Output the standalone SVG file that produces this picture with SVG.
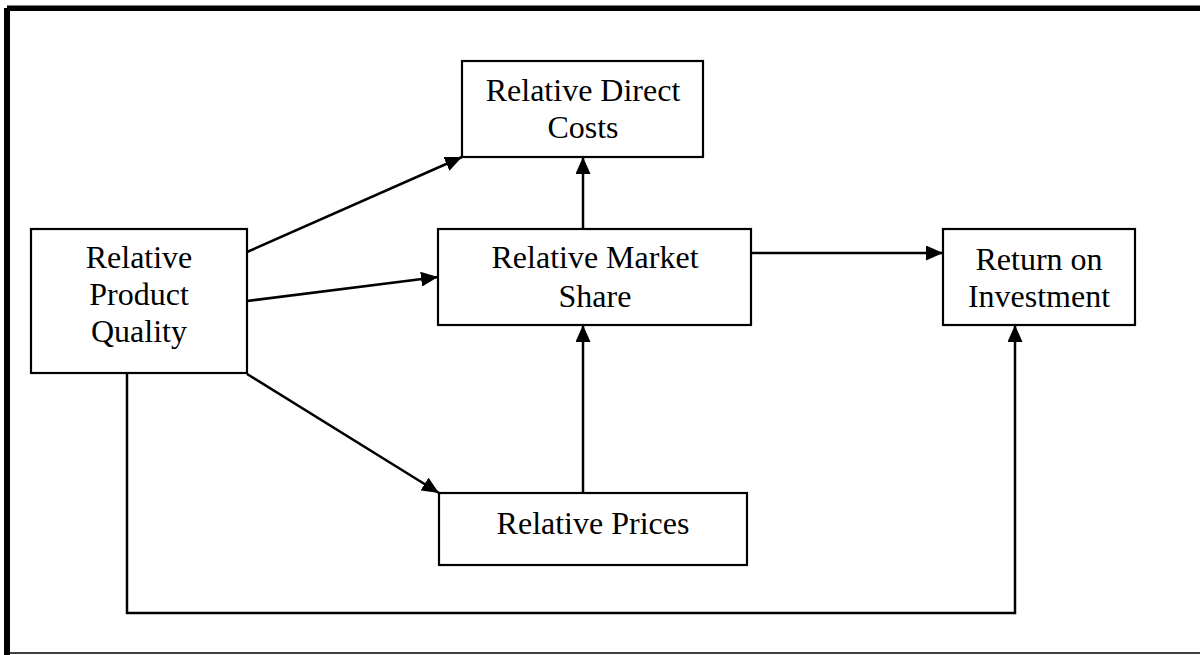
<svg xmlns="http://www.w3.org/2000/svg" width="1200" height="655" viewBox="0 0 1200 655">
<style>
.box{fill:#fff;stroke:#000;stroke-width:2.2}
.lbl{font-family:"Liberation Serif","Times New Roman",serif;font-size:32px;fill:#000;text-anchor:middle}
.con{fill:none;stroke:#000;stroke-width:2.5}
</style>
<defs>
<marker id="arr" viewBox="0 0 17 15" refX="17" refY="7.5" markerWidth="17" markerHeight="15" markerUnits="userSpaceOnUse" orient="auto">
<path d="M0,0 L17,7.5 L0,15 Z" fill="#000"/>
</marker>
</defs>
<rect width="1200" height="655" fill="#fff"/>
<g id="frame">
<rect x="7" y="5.5" width="1193" height="5.5" fill="#000"/>
<rect x="4" y="8" width="6" height="647" fill="#000"/>
<line x1="10" y1="653" x2="1200" y2="653" stroke="#000" stroke-width="1.5"/>
</g>
<g id="connectors">
<line class="con" x1="247" y1="252" x2="462" y2="157" marker-end="url(#arr)"/>
<line class="con" x1="247" y1="301" x2="438" y2="277" marker-end="url(#arr)"/>
<line class="con" x1="247" y1="374" x2="439" y2="493" marker-end="url(#arr)"/>
<line class="con" x1="583" y1="229" x2="583" y2="157" marker-end="url(#arr)"/>
<line class="con" x1="583" y1="493" x2="583" y2="325" marker-end="url(#arr)"/>
<line class="con" x1="752" y1="253" x2="943" y2="253" marker-end="url(#arr)"/>
<polyline class="con" points="127,373 127,613 1015,613 1015,325" marker-end="url(#arr)"/>
</g>
<g id="quality">
<rect class="box" x="31" y="229" width="216" height="144"/>
<text class="lbl" x="139" y="268">Relative</text>
<text class="lbl" x="139" y="305">Product</text>
<text class="lbl" x="139" y="342">Quality</text>
</g>
<g id="costs">
<rect class="box" x="462" y="61" width="241" height="96"/>
<text class="lbl" x="583" y="101">Relative Direct</text>
<text class="lbl" x="583" y="138">Costs</text>
</g>
<g id="share">
<rect class="box" x="438" y="229" width="313" height="96"/>
<text class="lbl" x="595" y="268">Relative Market</text>
<text class="lbl" x="595" y="307">Share</text>
</g>
<g id="roi">
<rect class="box" x="943" y="229" width="192" height="96"/>
<text class="lbl" x="1039" y="270">Return on</text>
<text class="lbl" x="1039" y="307">Investment</text>
</g>
<g id="prices">
<rect class="box" x="439" y="493" width="308" height="72"/>
<text class="lbl" x="593" y="534">Relative Prices</text>
</g>
</svg>
